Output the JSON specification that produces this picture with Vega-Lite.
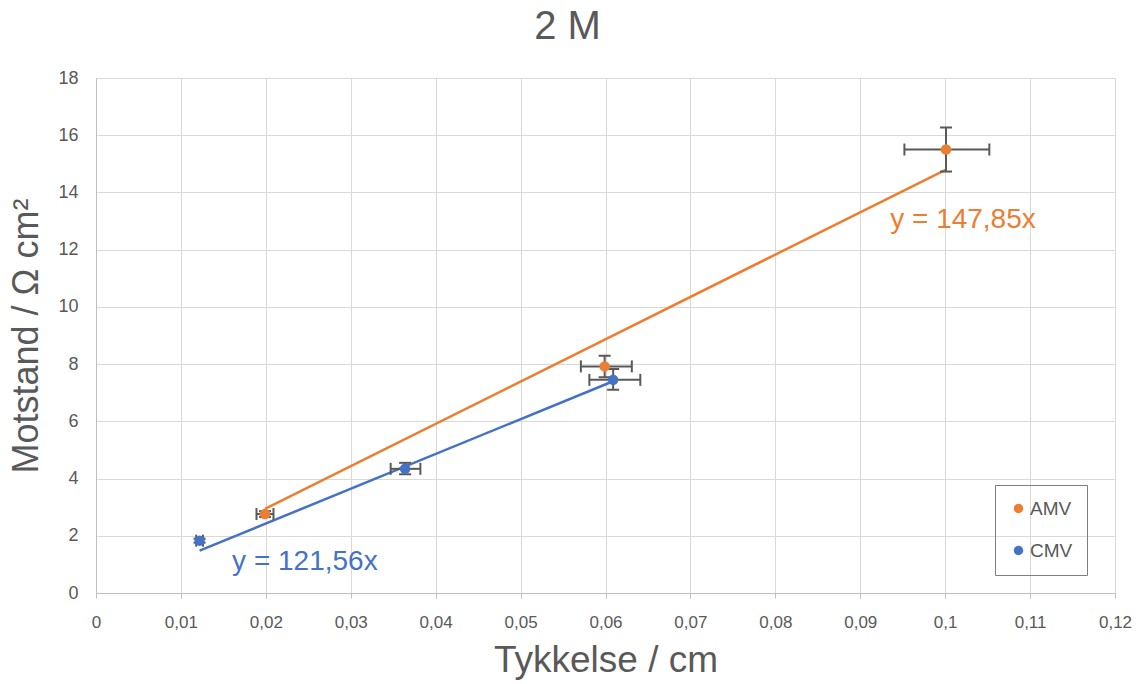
{
  "$schema": "https://vega.github.io/schema/vega-lite/v6.json",
  "autosize": "none",
  "width": 1019,
  "height": 515,
  "padding": {"left": 96, "top": 78, "right": 24, "bottom": 91},
  "background": "white",
  "title": {
    "text": "2 M",
    "fontSize": 40,
    "font": "Liberation Sans",
    "fontWeight": "normal",
    "color": "#595959",
    "anchor": "middle",
    "frame": "group",
    "baseline": "alphabetic",
    "offset": -10,
    "dx": -38
  },
  "datasets": {
    "pts": [
      {"series": "AMV", "x": 0.0199, "y": 2.76, "xlo": 0.0189, "xhi": 0.0209, "ylo": 2.66, "yhi": 2.86},
      {"series": "AMV", "x": 0.0599, "y": 7.92, "xlo": 0.0571, "xhi": 0.0631, "ylo": 7.54, "yhi": 8.29},
      {"series": "AMV", "x": 0.1001, "y": 15.5, "xlo": 0.0952, "xhi": 0.1052, "ylo": 14.73, "yhi": 16.27},
      {"series": "CMV", "x": 0.0122, "y": 1.83, "xlo": 0.0118, "xhi": 0.0126, "ylo": 1.76, "yhi": 1.9},
      {"series": "CMV", "x": 0.0364, "y": 4.34, "xlo": 0.0347, "xhi": 0.0382, "ylo": 4.15, "yhi": 4.55},
      {"series": "CMV", "x": 0.0609, "y": 7.45, "xlo": 0.0581, "xhi": 0.0641, "ylo": 7.1, "yhi": 7.83}
    ],
    "trend": [
      {"series": "AMV", "x": 0.0199, "y": 2.94},
      {"series": "AMV", "x": 0.1001, "y": 14.8},
      {"series": "CMV", "x": 0.0122, "y": 1.48},
      {"series": "CMV", "x": 0.0609, "y": 7.4}
    ],
    "labels": [
      {"series": "AMV", "x": 0.1021, "y": 13.04, "label": "y = 147,85x"},
      {"series": "CMV", "x": 0.0246, "y": 1.08, "label": "y = 121,56x"}
    ]
  },
  "encoding": {
    "x": {
      "type": "quantitative",
      "scale": {"domain": [0, 0.12], "nice": false, "zero": true},
      "axis": {
        "title": "Tykkelse / cm",
        "values": [0, 0.01, 0.02, 0.03, 0.04, 0.05, 0.06, 0.07, 0.08, 0.09, 0.1, 0.11, 0.12],
        "labelExpr": "replace(format(datum.value, '~g'), '.', ',')",
        "labelFont": "Liberation Sans",
        "labelFontSize": 17,
        "labelColor": "#595959",
        "labelPadding": 16,
        "titleFont": "Liberation Sans",
        "titleFontSize": 37,
        "titleFontWeight": "normal",
        "titleColor": "#595959",
        "titlePadding": 12,
        "grid": true,
        "gridColor": "#d9d9d9",
        "domainColor": "#bfbfbf",
        "tickColor": "#bfbfbf",
        "tickSize": 5,
        "labelFlush": false
      }
    },
    "y": {
      "type": "quantitative",
      "scale": {"domain": [0, 18], "nice": false},
      "axis": {
        "title": "Motstand / Ω cm²",
        "values": [0, 2, 4, 6, 8, 10, 12, 14, 16, 18],
        "labelFont": "Liberation Sans",
        "labelFontSize": 18,
        "labelColor": "#595959",
        "labelPadding": 18,
        "ticks": false,
        "titleFont": "Liberation Sans",
        "titleFontSize": 36,
        "titleFontWeight": "normal",
        "titleColor": "#595959",
        "titlePadding": 12,
        "grid": true,
        "gridColor": "#d9d9d9",
        "domainColor": "#bfbfbf",
        "labelFlush": false
      }
    }
  },
  "layer": [
    {
      "data": {"name": "trend"},
      "mark": {"type": "line", "strokeWidth": 2.5},
      "encoding": {
        "x": {"field": "x", "type": "quantitative"},
        "y": {"field": "y", "type": "quantitative"},
        "color": {"field": "series", "type": "nominal", "scale": {"domain": ["AMV", "CMV"], "range": ["#ED7D31", "#4472C4"]}, "legend": null}
      }
    },
    {
      "data": {"name": "pts"},
      "mark": {"type": "rule", "color": "#595959", "strokeWidth": 2},
      "encoding": {
        "x": {"field": "xlo", "type": "quantitative"},
        "x2": {"field": "xhi"},
        "y": {"field": "y", "type": "quantitative"}
      }
    },
    {
      "data": {"name": "pts"},
      "mark": {"type": "rule", "color": "#595959", "strokeWidth": 2},
      "encoding": {
        "x": {"field": "x", "type": "quantitative"},
        "y": {"field": "ylo", "type": "quantitative"},
        "y2": {"field": "yhi"}
      }
    },
    {
      "data": {"name": "pts"},
      "mark": {"type": "tick", "orient": "vertical", "color": "#595959", "size": 12, "thickness": 2, "opacity": 1},
      "encoding": {
        "x": {"field": "xlo", "type": "quantitative"},
        "y": {"field": "y", "type": "quantitative"}
      }
    },
    {
      "data": {"name": "pts"},
      "mark": {"type": "tick", "orient": "vertical", "color": "#595959", "size": 12, "thickness": 2, "opacity": 1},
      "encoding": {
        "x": {"field": "xhi", "type": "quantitative"},
        "y": {"field": "y", "type": "quantitative"}
      }
    },
    {
      "data": {"name": "pts"},
      "mark": {"type": "tick", "orient": "horizontal", "color": "#595959", "size": 12, "thickness": 2, "opacity": 1},
      "encoding": {
        "x": {"field": "x", "type": "quantitative"},
        "y": {"field": "ylo", "type": "quantitative"}
      }
    },
    {
      "data": {"name": "pts"},
      "mark": {"type": "tick", "orient": "horizontal", "color": "#595959", "size": 12, "thickness": 2, "opacity": 1},
      "encoding": {
        "x": {"field": "x", "type": "quantitative"},
        "y": {"field": "yhi", "type": "quantitative"}
      }
    },
    {
      "data": {"name": "pts"},
      "mark": {"type": "circle", "size": 110, "opacity": 1},
      "encoding": {
        "x": {"field": "x", "type": "quantitative"},
        "y": {"field": "y", "type": "quantitative"},
        "color": {
          "field": "series",
          "type": "nominal",
          "scale": {"domain": ["AMV", "CMV"], "range": ["#ED7D31", "#4472C4"]},
          "legend": {
            "title": null,
            "orient": "none",
            "legendX": 899,
            "legendY": 407,
            "direction": "vertical",
            "strokeColor": "#7f7f7f",
            "padding": 14,
            "symbolType": "circle",
            "symbolSize": 90,
            "symbolOpacity": 1,
            "labelFont": "Liberation Sans",
            "labelFontSize": 19,
            "labelColor": "#595959",
            "labelOffset": 2,
            "rowPadding": 22
          }
        }
      }
    },
    {
      "data": {"name": "labels"},
      "mark": {"type": "text", "fontSize": 28, "font": "Liberation Sans", "align": "center", "baseline": "middle"},
      "encoding": {
        "x": {"field": "x", "type": "quantitative"},
        "y": {"field": "y", "type": "quantitative"},
        "text": {"field": "label"},
        "color": {"field": "series", "type": "nominal", "scale": {"domain": ["AMV", "CMV"], "range": ["#ED7D31", "#4472C4"]}, "legend": null}
      }
    }
  ],
  "resolve": {"scale": {"color": "independent"}, "legend": {"color": "independent"}},
  "config": {
    "view": {"stroke": null}
  }
}
